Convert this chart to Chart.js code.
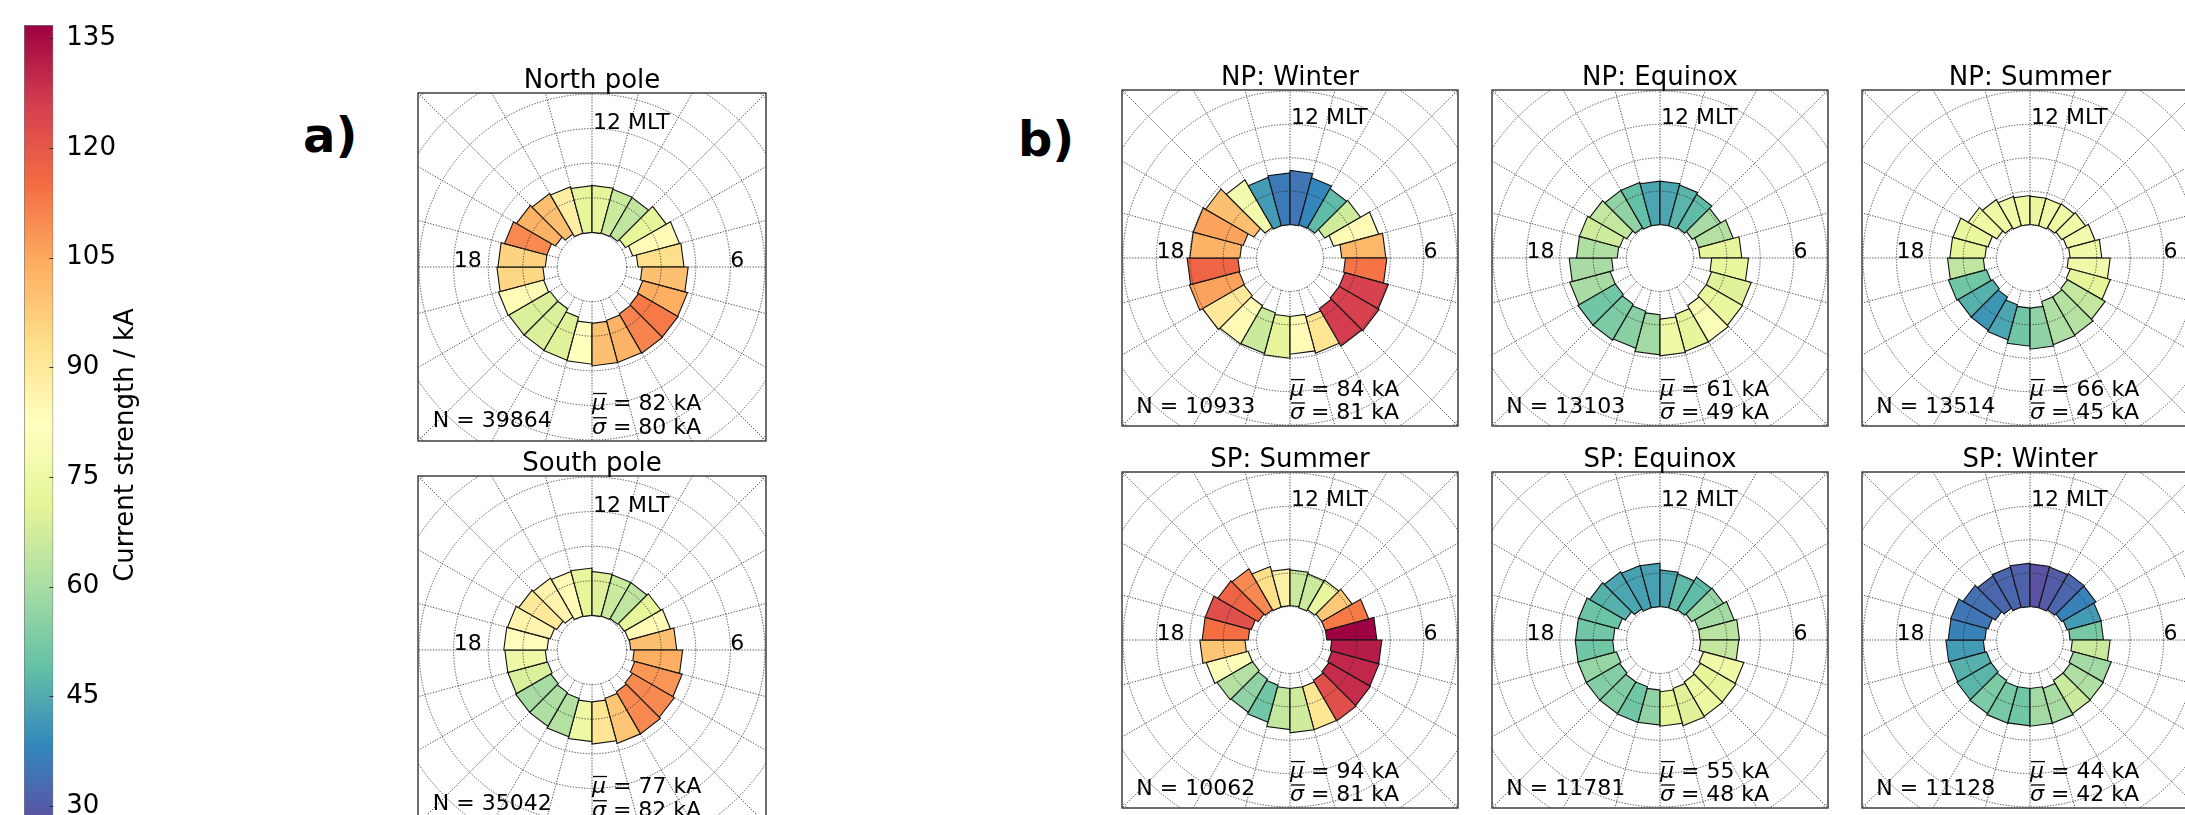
<!DOCTYPE html>
<html>
<head>
<meta charset="utf-8">
<script src="https://cdn.jsdelivr.net/npm/chart.js@4.4.0/dist/chart.umd.min.js"></script>
<style>
html, body { margin: 0; padding: 0; background: #fff; }
body { width: 2185px; height: 815px; overflow: hidden; position: relative; font-family: "DejaVu Sans", sans-serif; }
canvas { position: absolute; }
.lbl { position: absolute; font-weight: bold; font-size: 48px; line-height: 1; color: #000; }
</style>
</head>
<body>
<div class="lbl" style="left:303px; top:111px">a)</div>
<div class="lbl" style="left:1018px; top:115px">b)</div>
<script>
// MLT bins: bin h spans h..h+1 MLT
const mltHours = [0, 1, 2, 3, 4, 5, 6, 7, 8, 9, 10, 11, 12, 13, 14, 15, 16, 17, 18, 19, 20, 21, 22, 23];
const gridRings = [1, 2, 3, 4, 5, 6, 7, 8];

// colour scale (kA)
const vmin = 27.5, vmax = 136.8;
const cbarTicks = [30, 45, 60, 75, 90, 105, 120, 135];
const spectralR = ['#5e4fa2', '#3288bd', '#66c2a5', '#abdda4', '#e6f598', '#ffffbf',
                   '#fee08b', '#fdae61', '#f46d43', '#d53e4f', '#9e0142'];

// a) all seasons
const npAllValues = [100, 103, 111, 113, 104, 100, 93, 84, 72, 64, 66, 72, 72, 88, 100, 103, 110, 96, 95, 84, 69, 69, 70, 82];
const npAllInner  = [1.63, 1.60, 1.57, 1.55, 1.52, 1.45, 1.33, 1.22, 1.12, 1.05, 1.02, 1.0, 1.0, 1.02, 1.1, 1.22, 1.35, 1.35, 1.42, 1.45, 1.4, 1.4, 1.5, 1.62];
const npAllOuter  = [2.86, 2.86, 2.88, 2.87, 2.86, 2.78, 2.66, 2.62, 2.48, 2.32, 2.33, 2.36, 2.35, 2.4, 2.45, 2.52, 2.62, 2.72, 2.75, 2.8, 2.78, 2.78, 2.79, 2.81];

const spAllValues = [91, 99, 110, 110, 108, 104, 100, 84, 72, 64, 66, 70, 72, 84, 86, 90, 86, 83, 75, 69, 60, 61, 62, 75];
const spAllInner  = [1.5, 1.45, 1.4, 1.35, 1.28, 1.22, 1.12, 1.1, 1.08, 1.05, 1.02, 1.0, 1.0, 1.02, 1.1, 1.18, 1.25, 1.3, 1.35, 1.33, 1.38, 1.42, 1.45, 1.5];
const spAllOuter  = [2.72, 2.8, 2.8, 2.75, 2.7, 2.62, 2.45, 2.35, 2.3, 2.25, 2.25, 2.27, 2.37, 2.35, 2.4, 2.45, 2.53, 2.55, 2.52, 2.52, 2.55, 2.55, 2.6, 2.65];

// b) by season
const npWinterValues = [84, 91, 126, 125, 125, 114, 102, 84, 67, 48, 38, 35, 36, 42, 77, 100, 106, 103, 117, 106, 90, 84, 66, 72];
const npWinterInner  = [1.75, 1.83, 1.75, 1.7, 1.7, 1.66, 1.55, 1.35, 1.2, 1.05, 1.03, 1.0, 1.0, 1.0, 1.06, 1.25, 1.45, 1.5, 1.56, 1.58, 1.6, 1.65, 1.7, 1.75];
const npWinterOuter  = [2.88, 2.95, 3.05, 3.08, 3.05, 2.9, 2.87, 2.75, 2.44, 2.4, 2.49, 2.62, 2.55, 2.5, 2.7, 2.92, 3.0, 3.0, 3.08, 3.12, 3.03, 2.97, 2.96, 3.0];

const npEquinoxValues = [75, 72, 80, 73, 70, 73, 72, 62, 60, 48, 47, 44, 44, 49, 56, 65, 67, 61, 60, 60, 51, 53, 55, 59];
const npEquinoxInner  = [1.83, 1.75, 1.65, 1.6, 1.6, 1.55, 1.2, 1.2, 1.12, 1.05, 1.0, 1.0, 1.0, 1.0, 1.05, 1.15, 1.25, 1.28, 1.45, 1.55, 1.55, 1.6, 1.65, 1.7];
const npEquinoxOuter  = [2.93, 2.9, 2.9, 2.85, 2.83, 2.65, 2.45, 2.27, 2.1, 2.2, 2.26, 2.3, 2.3, 2.34, 2.34, 2.43, 2.5, 2.5, 2.72, 2.8, 2.84, 2.84, 2.8, 2.9];

const npSummerValues = [56, 61, 62, 65, 72, 76, 76, 77, 76, 75, 76, 73, 75, 76, 75, 75, 73, 72, 64, 51, 46, 41, 44, 51];
const npSummerInner  = [1.5, 1.35, 1.35, 1.3, 1.25, 1.15, 1.2, 1.15, 1.1, 1.05, 1.0, 1.0, 1.0, 1.0, 1.05, 1.15, 1.3, 1.35, 1.4, 1.35, 1.3, 1.35, 1.45, 1.5];
const npSummerOuter  = [2.73, 2.69, 2.67, 2.6, 2.49, 2.4, 2.15, 2.02, 1.92, 1.87, 1.85, 1.85, 1.87, 1.91, 2.02, 2.14, 2.39, 2.4, 2.47, 2.53, 2.49, 2.5, 2.54, 2.64];

const spSummerValues = [67, 91, 122, 129, 130, 132, 137, 113, 98, 73, 66, 66, 87, 93, 110, 117, 122, 115, 99, 80, 62, 56, 51, 65];
const spSummerInner  = [1.45, 1.45, 1.4, 1.35, 1.3, 1.25, 1.1, 1.1, 1.1, 1.05, 1.0, 1.03, 1.03, 1.02, 1.05, 1.1, 1.2, 1.25, 1.35, 1.3, 1.3, 1.35, 1.4, 1.45];
const spSummerOuter  = [2.78, 2.78, 2.8, 2.78, 2.76, 2.75, 2.6, 2.44, 2.15, 2.07, 2.05, 2.1, 2.13, 2.28, 2.46, 2.5, 2.63, 2.63, 2.7, 2.6, 2.53, 2.5, 2.55, 2.68];

const spEquinoxValues = [71, 70, 74, 72, 76, 65, 63, 59, 57, 48, 48, 44, 43, 43, 44, 46, 50, 51, 51, 57, 54, 54, 51, 56];
const spEquinoxInner  = [1.55, 1.5, 1.45, 1.4, 1.35, 1.22, 1.2, 1.2, 1.1, 1.05, 1.0, 1.0, 1.0, 1.0, 1.08, 1.2, 1.3, 1.4, 1.42, 1.35, 1.4, 1.45, 1.45, 1.5];
const spEquinoxOuter  = [2.58, 2.66, 2.64, 2.63, 2.6, 2.36, 2.38, 2.3, 2.2, 2.18, 2.05, 2.1, 2.3, 2.31, 2.36, 2.43, 2.52, 2.53, 2.54, 2.55, 2.55, 2.55, 2.56, 2.55];

const spWinterValues = [59, 60, 66, 61, 59, 66, 52, 42, 37, 32, 30, 28, 31, 32, 32, 34, 35, 37, 42, 46, 47, 53, 52, 51];
const spWinterInner  = [1.45, 1.5, 1.4, 1.4, 1.35, 1.27, 1.2, 1.15, 1.1, 1.05, 1.0, 1.0, 1.0, 1.02, 1.1, 1.2, 1.3, 1.35, 1.4, 1.35, 1.35, 1.4, 1.45, 1.45];
const spWinterOuter  = [2.58, 2.58, 2.55, 2.54, 2.52, 2.4, 2.2, 2.21, 2.28, 2.3, 2.26, 2.28, 2.3, 2.26, 2.22, 2.32, 2.46, 2.45, 2.52, 2.5, 2.53, 2.55, 2.58, 2.57];

const panelTitles = ['North pole', 'South pole', 'NP: Winter', 'NP: Equinox', 'NP: Summer', 'SP: Summer', 'SP: Equinox', 'SP: Winter'];
const panelN      = [39864, 35042, 10933, 13103, 13514, 10062, 11781, 11128];
const panelMu     = [82, 77, 84, 61, 66, 94, 55, 44];
const panelSigma  = [80, 82, 81, 49, 45, 81, 48, 42];

// layout of the frames on the page
const panels = [
  { values: npAllValues, inner: npAllInner, outer: npAllOuter, left: 418, top: 93, size: 348 },
  { values: spAllValues, inner: spAllInner, outer: spAllOuter, left: 418, top: 476, size: 348 },
  { values: npWinterValues, inner: npWinterInner, outer: npWinterOuter, left: 1122, top: 90, size: 336 },
  { values: npEquinoxValues, inner: npEquinoxInner, outer: npEquinoxOuter, left: 1492, top: 90, size: 336 },
  { values: npSummerValues, inner: npSummerInner, outer: npSummerOuter, left: 1862, top: 90, size: 336 },
  { values: spSummerValues, inner: spSummerInner, outer: spSummerOuter, left: 1122, top: 472, size: 336 },
  { values: spEquinoxValues, inner: spEquinoxInner, outer: spEquinoxOuter, left: 1492, top: 472, size: 336 },
  { values: spWinterValues, inner: spWinterInner, outer: spWinterOuter, left: 1862, top: 472, size: 336 }
];

const H = 5.03; // half width of a frame in grid units
const FONT = '"DejaVu Sans", sans-serif';

function hexToRgb(h) {
  return [parseInt(h.slice(1, 3), 16), parseInt(h.slice(3, 5), 16), parseInt(h.slice(5, 7), 16)];
}
const stops = spectralR.map(hexToRgb);

function colorFor(v) {
  let t = (v - vmin) / (vmax - vmin);
  t = Math.max(0, Math.min(1, t)) * (stops.length - 1);
  const i = Math.min(Math.floor(t), stops.length - 2), f = t - i;
  const c = stops[i].map((a, k) => Math.round(a + (stops[i + 1][k] - a) * f));
  return 'rgb(' + c.join(',') + ')';
}

function mltAngle(h) { return (h - 6) * Math.PI / 12; }

function statText(ctx, x, y, sym, rest) {
  ctx.font = 'italic 22px ' + FONT;
  const w = ctx.measureText(sym).width;
  ctx.fillText(sym, x, y);
  ctx.fillRect(x + 1, y - 17, w, 1.3);
  ctx.font = '22px ' + FONT;
  ctx.fillText(rest, x + w, y);
}

function makePanel(p, k) {
  const pad = 4, padTop = 40;
  const cv = document.createElement('canvas');
  cv.width = p.size + 2 * pad;
  cv.height = p.size + padTop + pad;
  cv.style.left = (p.left - pad) + 'px';
  cv.style.top = (p.top - padTop) + 'px';
  document.body.appendChild(cv);

  const datasets = mltHours.map((h, i) => {
    const a0 = mltAngle(h), a1 = mltAngle(h + 1);
    const ri = p.inner[i], ro = p.outer[i];
    const pts = [[ri, a0], [ro, a0], [ro, a1], [ri, a1], [ri, a0]]
      .map(([r, a]) => ({ x: r * Math.cos(a), y: r * Math.sin(a) }));
    return {
      data: pts, showLine: true, fill: 'shape',
      backgroundColor: colorFor(p.values[i]),
      borderColor: '#111', borderWidth: 1.1,
      pointRadius: 0, tension: 0
    };
  });

  const decor = {
    id: 'polarDecor',
    afterDatasetsDraw(chart) {
      const { ctx, chartArea: a, scales: { x, y } } = chart;
      const cx = x.getPixelForValue(0), cy = y.getPixelForValue(0);
      ctx.save();
      ctx.beginPath();
      ctx.rect(a.left, a.top, a.width, a.height);
      ctx.clip();
      ctx.strokeStyle = 'rgba(40,40,40,0.9)';
      ctx.lineWidth = 0.9;
      ctx.setLineDash([1.3, 1.5]);
      gridRings.forEach(r => {
        ctx.beginPath();
        ctx.arc(cx, cy, x.getPixelForValue(r) - cx, 0, 2 * Math.PI);
        ctx.stroke();
      });
      mltHours.forEach(h => {
        const ang = mltAngle(h);
        ctx.beginPath();
        ctx.moveTo(x.getPixelForValue(Math.cos(ang)), y.getPixelForValue(Math.sin(ang)));
        ctx.lineTo(x.getPixelForValue(8 * Math.cos(ang)), y.getPixelForValue(8 * Math.sin(ang)));
        ctx.stroke();
      });
      ctx.restore();
    },
    afterDraw(chart) {
      const { ctx, chartArea: a, scales: { x, y } } = chart;
      ctx.save();
      ctx.strokeStyle = '#333';
      ctx.lineWidth = 1.4;
      ctx.strokeRect(a.left, a.top, a.width, a.height);
      ctx.fillStyle = '#000';
      ctx.textBaseline = 'alphabetic';
      ctx.textAlign = 'center';
      ctx.font = '26px ' + FONT;
      ctx.fillText(panelTitles[k], (a.left + a.right) / 2, a.top - 5);
      ctx.textAlign = 'left';
      ctx.font = '22px ' + FONT;
      ctx.fillText('12 MLT', x.getPixelForValue(0) + 1, y.getPixelForValue(4));
      ctx.fillText('18', x.getPixelForValue(-4), y.getPixelForValue(0));
      ctx.fillText('6', x.getPixelForValue(4), y.getPixelForValue(0));
      ctx.fillText('N = ' + panelN[k], x.getPixelForValue(-4.6), y.getPixelForValue(-4.63));
      statText(ctx, x.getPixelForValue(0), y.getPixelForValue(-4.13), '\u03bc', ' = ' + panelMu[k] + ' kA');
      statText(ctx, x.getPixelForValue(0), y.getPixelForValue(-4.83), '\u03c3', ' = ' + panelSigma[k] + ' kA');
      ctx.restore();
    }
  };

  new Chart(cv, {
    type: 'scatter',
    data: { datasets },
    options: {
      responsive: false, animation: false, events: [],
      layout: { padding: { left: pad, right: pad, top: padTop, bottom: pad } },
      plugins: { legend: { display: false }, tooltip: { enabled: false } },
      scales: {
        x: { type: 'linear', min: -H, max: H, display: false },
        y: { type: 'linear', min: -H, max: H, display: false }
      }
    },
    plugins: [decor]
  });
}

panels.forEach(makePanel);

// colour bar
const cb = document.createElement('canvas');
cb.width = 200; cb.height = 845;
cb.style.left = '0px'; cb.style.top = '0px';
document.body.appendChild(cb);

const cbDecor = {
  id: 'cbDecor',
  afterDraw(chart) {
    const { ctx, chartArea: a, scales: { y } } = chart;
    ctx.save();
    ctx.strokeStyle = '#333';
    ctx.lineWidth = 1;
    cbarTicks.forEach(v => {
      const py = Math.round(y.getPixelForValue(v)) + 0.5;
      ctx.beginPath(); ctx.moveTo(a.right - 4, py); ctx.lineTo(a.right, py); ctx.stroke();
    });
    ctx.translate(126, 445);
    ctx.rotate(-Math.PI / 2);
    ctx.fillStyle = '#000';
    ctx.font = '26px ' + FONT;
    ctx.textAlign = 'center';
    ctx.textBaseline = 'middle';
    ctx.fillText('Current strength / kA', 0, 0);
    ctx.restore();
  }
};

new Chart(cb, {
  type: 'bar',
  data: {
    labels: [''],
    datasets: [{
      data: [[vmin, vmax]],
      backgroundColor: (c) => {
        const ch = c.chart;
        if (!ch.chartArea) return spectralR[0];
        const ys = ch.scales.y;
        const g = ch.ctx.createLinearGradient(0, ys.getPixelForValue(vmin), 0, ys.getPixelForValue(vmax));
        spectralR.forEach((col, i) => g.addColorStop(i / (spectralR.length - 1), col));
        return g;
      },
      borderColor: '#777', borderWidth: 1, borderSkipped: false,
      barPercentage: 1, categoryPercentage: 1
    }]
  },
  options: {
    responsive: false, animation: false, events: [],
    layout: { padding: { left: 24, top: 25, bottom: 20, right: 0 } },
    plugins: { legend: { display: false }, tooltip: { enabled: false } },
    scales: {
      x: { display: false },
      y: {
        position: 'right', min: vmin, max: vmax,
        grid: { display: false }, border: { display: false },
        afterBuildTicks: s => { s.ticks = cbarTicks.map(v => ({ value: v })); },
        afterFit: s => { s.width = 146.7; },
        ticks: { font: { size: 26, family: 'DejaVu Sans' }, color: '#000', padding: 5 }
      }
    }
  },
  plugins: [cbDecor]
});
</script>
</body>
</html>
